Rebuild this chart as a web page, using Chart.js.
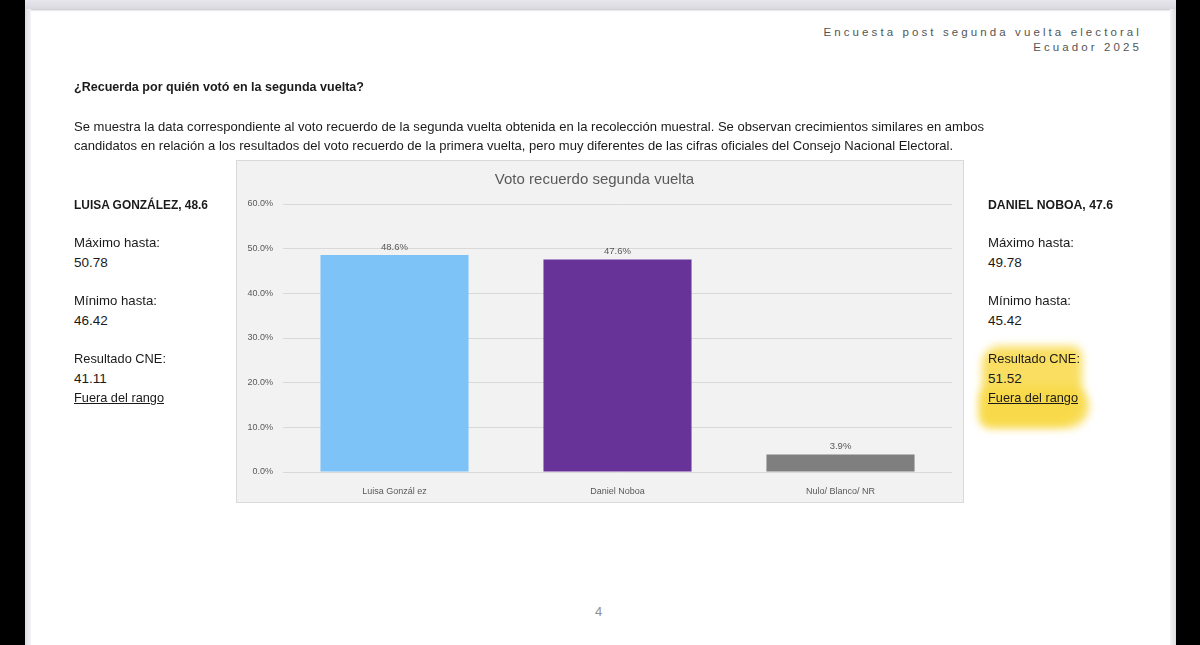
<!DOCTYPE html>
<html><head><meta charset="utf-8">
<script src="https://cdn.jsdelivr.net/npm/chart.js@4.4.1/dist/chart.umd.min.js"></script>
<style>
html,body{margin:0;padding:0;width:1200px;height:645px;overflow:hidden;background:#000;}
#page{position:absolute;left:25px;top:0;width:1151px;height:645px;background:#fff;}
#topband{position:absolute;left:25px;top:0;width:1151px;height:9px;background:linear-gradient(#e6e6ec,#d9d9df);box-shadow:0 1px 2px rgba(0,0,0,0.25);}
#lb{position:absolute;left:25px;top:9px;width:6px;height:636px;background:linear-gradient(90deg,#dcdce2,#f4f4f6);}
#rb{position:absolute;left:1170px;top:9px;width:6px;height:636px;background:linear-gradient(90deg,#f4f4f6,#dcdce2);}
.t{position:absolute;font-family:"Liberation Sans",sans-serif;color:#1a1a1a;white-space:nowrap;transform-origin:0 50%;}
.hdr{font-size:11.5px;letter-spacing:3.1px;color:#555;right:58px;text-align:right;}
.side{font-size:13.5px;}
.b{font-weight:bold;}
.u{text-decoration:underline;}
#chartbox{position:absolute;left:236px;top:160px;width:728px;height:343px;background:#f2f2f2;border:1px solid #d9d9d9;box-sizing:border-box;}
.hl{position:absolute;background:#f8d946;filter:blur(4px);opacity:0.85;}
</style></head>
<body>
<div id="page"></div>
<div id="topband"></div>
<div id="lb"></div><div id="rb"></div>

<div class="t hdr" style="top:26px;">Encuesta post segunda vuelta electoral</div>
<div class="t hdr" style="top:41px;">Ecuador 2025</div>

<div class="t b fit" data-w="290" style="left:74px;top:79px;font-size:13.2px;">¿Recuerda por quién votó en la segunda vuelta?</div>
<div class="t fit" data-w="910" style="left:74px;top:119px;font-size:13.2px;">Se muestra la data correspondiente al voto recuerdo de la segunda vuelta obtenida en la recolección muestral. Se observan crecimientos similares en ambos</div>
<div class="t fit" data-w="879" style="left:74px;top:138px;font-size:13.2px;">candidatos en relación a los resultados del voto recuerdo de la primera vuelta, pero muy diferentes de las cifras oficiales del Consejo Nacional Electoral.</div>

<div class="hl" style="left:982px;top:346px;width:100px;height:79px;border-radius:18px 10px 26px 8px;"></div>
<div class="hl" style="left:979px;top:386px;width:110px;height:42px;border-radius:14px 20px 22px 12px;"></div>

<div id="left"></div>
<div id="right"></div>

<div id="chartbox"><canvas id="c" width="726" height="341"></canvas></div>

<div class="t" style="left:595px;top:604px;font-size:13px;color:#909090;">4</div>

<script>
const categories = ["Luisa Gonzál ez", "Daniel Noboa", "Nulo/ Blanco/ NR"];
const values = [48.6, 47.6, 3.9];
const barColors = ["#7dc3f7", "#673399", "#7f7f7f"];
const yTicks = [0, 10, 20, 30, 40, 50, 60];
const chartTitle = "Voto recuerdo segunda vuelta";

const leftLines = ["LUISA GONZÁLEZ, 48.6", "Máximo hasta:", "50.78", "Mínimo hasta:", "46.42", "Resultado CNE:", "41.11", "Fuera del rango"];
const rightLines = ["DANIEL NOBOA, 47.6", "Máximo hasta:", "49.78", "Mínimo hasta:", "45.42", "Resultado CNE:", "51.52", "Fuera del rango"];
const lineTops = [197, 235, 255, 293, 313, 351, 371, 390];
const leftWidths = [134, 86, 0, 83, 0, 92, 0, 90];
const rightWidths = [125, 86, 0, 83, 0, 92, 0, 90];

function side(id, x, lines, widths){
  const el = document.getElementById(id);
  lines.forEach((s,i)=>{
    const d = document.createElement('div');
    d.className = 't side' + (i===0?' b':'') + (i===lines.length-1?' u':'') + (widths[i]?' fit':'');
    if (widths[i]) d.dataset.w = widths[i];
    d.style.left = x+'px'; d.style.top = lineTops[i]+'px';
    d.textContent = s;
    el.appendChild(d);
  });
}
side('left', 74, leftLines, leftWidths);
side('right', 988, rightLines, rightWidths);

document.querySelectorAll('.fit').forEach(el=>{
  const w = el.getBoundingClientRect().width;
  const target = parseFloat(el.dataset.w);
  el.style.transform = 'scaleX(' + (target/w) + ')';
});

const labelPlugin = {
  id:'vlabels',
  afterDatasetsDraw(chart){
    const ctx = chart.ctx;
    const meta = chart.getDatasetMeta(0);
    ctx.save();
    ctx.font = '9.5px "Liberation Sans", sans-serif';
    ctx.fillStyle = '#595959';
    ctx.textAlign = 'center';
    ctx.textBaseline = 'bottom';
    meta.data.forEach((bar,i)=>{
      ctx.fillText(values[i].toFixed(1)+'%', bar.x, bar.y-3);
    });
    ctx.restore();
  }
};

new Chart(document.getElementById('c'), {
  type:'bar',
  data:{labels:categories, datasets:[{data:values, backgroundColor:barColors, borderWidth:0, categoryPercentage:1, barPercentage:0.664}]},
  options:{
    responsive:false, animation:false,
    layout:{padding:{left:0,right:11,top:0,bottom:0}},
    plugins:{
      legend:{display:false}, tooltip:{enabled:false},
      title:{display:true, text:chartTitle, color:'#595959', font:{family:'"Liberation Sans", sans-serif', size:15, weight:'normal'}, padding:{top:10,bottom:15}}
    },
    scales:{
      x:{grid:{display:false}, border:{display:false},
         ticks:{color:'#595959', font:{family:'"Liberation Sans", sans-serif', size:9}, padding:6},
         afterFit(s){ s.height = 30; }},
      y:{min:0, max:60, grid:{color:'#d9d9d9', drawTicks:false}, border:{display:false},
         afterBuildTicks(s){ s.ticks = yTicks.map(v=>({value:v})); },
         ticks:{color:'#595959', font:{family:'"Liberation Sans", sans-serif', size:9}, padding:10, callback:v=>v.toFixed(1)+'%'},
         afterFit(s){ s.width = 46; }}
    }
  },
  plugins:[labelPlugin]
});
</script>
</body></html>
